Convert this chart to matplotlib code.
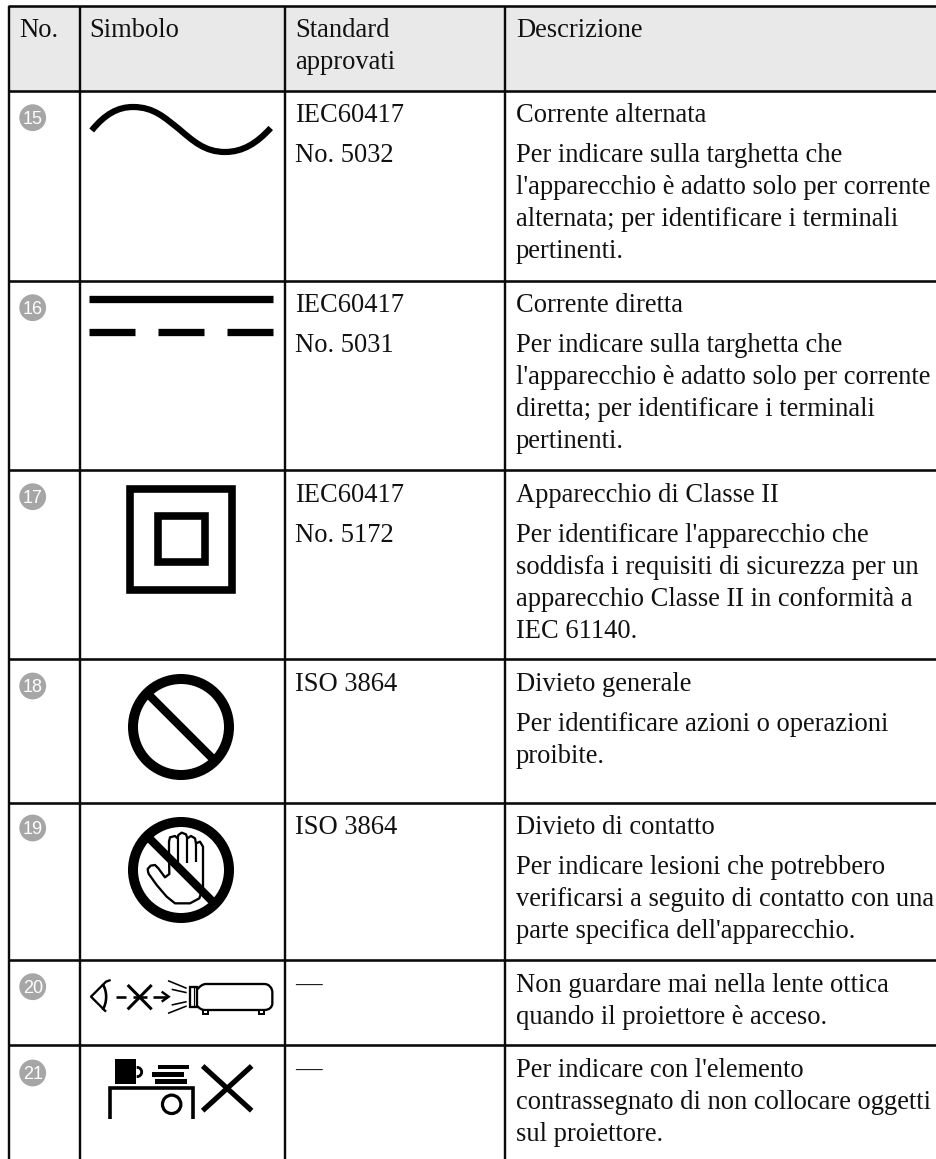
import matplotlib
matplotlib.use("Agg")
import matplotlib.pyplot as plt
from matplotlib.patches import Rectangle, Circle, PathPatch
from matplotlib.path import Path

W, H = 937, 1159
plt.rcParams['font.family'] = ['Liberation Serif', 'DejaVu Serif']

headers = ["No.", "Simbolo", "Standard\napprovati", "Descrizione"]
numbers = ["15", "16", "17", "18", "19", "20", "21"]
standards = [["IEC60417", "No. 5032"], ["IEC60417", "No. 5031"], ["IEC60417", "No. 5172"],
             ["ISO 3864"], ["ISO 3864"], ["—"], ["—"]]
titles = ["Corrente alternata", "Corrente diretta", "Apparecchio di Classe II",
          "Divieto generale", "Divieto di contatto", None, None]
bodies = [
    ["Per indicare sulla targhetta che", "l'apparecchio è adatto solo per corrente",
     "alternata; per identificare i terminali", "pertinenti."],
    ["Per indicare sulla targhetta che", "l'apparecchio è adatto solo per corrente",
     "diretta; per identificare i terminali", "pertinenti."],
    ["Per identificare l'apparecchio che", "soddisfa i requisiti di sicurezza per un",
     "apparecchio Classe II in conformità a", "IEC 61140."],
    ["Per identificare azioni o operazioni", "proibite."],
    ["Per indicare lesioni che potrebbero", "verificarsi a seguito di contatto con una",
     "parte specifica dell'apparecchio."],
    ["Non guardare mai nella lente ottica", "quando il proiettore è acceso."],
    ["Per indicare con l'elemento", "contrassegnato di non collocare oggetti", "sul proiettore."],
]
col_x = [9.5, 80, 285, 505]
row_y = [6, 90.5, 280.5, 470, 659, 802.5, 960, 1045]
badge_y = [117.7, 307.7, 496.7, 686, 828, 986.7, 1073]
text_x = [19, 89, 295, 516]

FS = 19.1
INK = "#111111"
fig = plt.figure(figsize=(W / 100, H / 100), dpi=100, facecolor="white")
ax = fig.add_axes([0, 0, 1, 1])
ax.set_xlim(0, W); ax.set_ylim(H, 0); ax.axis("off")

def px(v):
    return v * 0.72

def line(pts, w, color="black", cap="butt", join="miter", z=3):
    xs, ys = zip(*pts)
    ax.plot(xs, ys, color=color, lw=px(w), solid_capstyle=cap, solid_joinstyle=join, zorder=z)

def bez(verts, w, z=3):
    codes = [Path.MOVETO] + [Path.CURVE4] * (len(verts) - 1)
    ax.add_patch(PathPatch(Path(verts, codes), fc="none", ec="black", lw=px(w), capstyle="butt", zorder=z))

def zoom_map(ox, oy, pts):
    return [(ox + a / 3, oy + b / 3) for a, b in pts]

# table frame
ax.add_patch(Rectangle((col_x[0], row_y[0]), W - col_x[0], row_y[1] - row_y[0], fc="#e9e9e9", ec="none", zorder=0))
for y in row_y:
    ax.plot([col_x[0] - 1, W], [y, y], color="#0a0a0a", lw=px(2.6), solid_capstyle="butt", zorder=1)
for x in col_x:
    ax.plot([x, x], [row_y[0], H], color="#0a0a0a", lw=px(2.4), solid_capstyle="butt", zorder=1)

# header
for x, h in zip(text_x, headers):
    for i, part in enumerate(h.split("\n")):
        ax.text(x, 37 + i * 32, part, fontsize=FS, color=INK, ha="left", va="baseline")

# rows
for i, n in enumerate(numbers):
    top = row_y[i + 1]
    ax.add_patch(Circle((32.7, badge_y[i]), 13.4, fc="#a6a6a6", ec="none", zorder=2))
    ax.text(32.7, badge_y[i] + 6.2, n, fontsize=13, color="white", ha="center", va="baseline",
            family="Liberation Sans", zorder=3)
    b = top + 32
    for j, s in enumerate(standards[i]):
        ax.text(text_x[2], b + j * 40, s, fontsize=FS, color=INK, ha="left", va="baseline")
    y = b
    if titles[i]:
        ax.text(text_x[3], y, titles[i], fontsize=FS, color=INK, ha="left", va="baseline")
        y += 40
    for k, ln in enumerate(bodies[i]):
        ax.text(text_x[3], y + k * 32, ln, fontsize=FS, color=INK, ha="left", va="baseline")

# 15: alternating current
bez([(91.7, 130.5), (105, 114), (118, 107), (133, 107), (154, 107), (165, 118), (179, 129),
     (193, 141), (205, 152), (225, 152), (243, 152), (257, 143), (270.7, 128)], 6.2)

# 16: direct current
line([(89.3, 298.7), (273, 298.7)], 7.3)
for a, c in [(89.3, 135), (158.5, 204), (227.5, 273)]:
    line([(a, 331.7), (c, 331.7)], 7.3)

# 17: class II
for (x0, y0, x1, y1) in [(126.7, 484.7, 235.7, 593.3), (154, 512, 208.3, 566)]:
    t = 7.6
    ax.add_patch(Rectangle((x0 + t / 2, y0 + t / 2), x1 - x0 - t, y1 - y0 - t, fc="none", ec="black",
                           lw=px(t), joinstyle="miter", zorder=3))

# 18 / 19: prohibition
for cy in (727, 870):
    ax.add_patch(Circle((181, cy), 48, fc="none", ec="black", lw=px(10), zorder=4))
    line([(181 - 36, cy - 36), (181 + 36, cy + 36)], 8.3, z=4)

# 19: hand outline
hand = [(115, 220), (113, 207), (122, 197), (135, 195), (145, 205), (165, 232),
        (178, 222), (177, 170), (177, 125), (180, 112), (195, 108), (203, 115),
        (205, 105), (215, 98), (228, 103), (232, 115), (243, 108), (255, 115), (258, 130),
        (270, 125), (279, 140), (279, 200), (279, 262), (268, 295), (240, 310),
        (195, 310), (170, 290), (140, 255), (115, 220)]
hand_pts = zoom_map(110, 800, hand)
ax.add_patch(PathPatch(Path(hand_pts), fc="white", ec="black", lw=px(2.3), joinstyle="round", zorder=3))
for fx, y0, y1 in [(203, 115, 185), (230, 115, 190), (257, 130, 185)]:
    line(zoom_map(110, 800, [(fx, y0), (fx, y1)]), 2.2, z=3)

# 20: eye, crossed arrow, projector
O20 = (80, 960)
line(zoom_map(*O20, [(92, 60), (78, 65), (33, 110), (78, 155)]), 2.3, join="round")
bez(zoom_map(*O20, [(68, 72), (82, 95), (82, 125), (68, 150)]), 2.6)
for a, c in [(108, 138), (160, 200), (220, 262)]:
    line(zoom_map(*O20, [(a, 110), (c, 110)]), 2.6)
line(zoom_map(*O20, [(245, 95), (266, 110), (245, 125)]), 2.4)
line(zoom_map(*O20, [(143, 75), (215, 148)]), 3)
line(zoom_map(*O20, [(215, 75), (143, 148)]), 3)
for seg in [[(264, 62), (320, 85)], [(275, 88), (320, 98)], [(275, 135), (320, 125)], [(264, 160), (320, 138)]]:
    line(zoom_map(*O20, seg), 1.6)
ax.add_patch(Rectangle(zoom_map(*O20, [(330, 81)])[0], 22 / 3, 59 / 3, fc="white", ec="black", lw=px(2.3), zorder=3))
line(zoom_map(*O20, [(341, 81), (341, 140)]), 1.2)
body = [(352, 88), (358, 80), (368, 72), (378, 72), (430, 72), (500, 72), (553, 72),
        (568, 72), (577, 85), (577, 97), (577, 110), (577, 120), (577, 130),
        (577, 142), (567, 150), (553, 150), (500, 150), (430, 150), (375, 150),
        (365, 150), (358, 145), (352, 138)]
bez(zoom_map(*O20, body), 2.3)
for a in (370, 538):
    ax.add_patch(Rectangle(zoom_map(*O20, [(a, 150)])[0], 15 / 3, 12 / 3, fc="white", ec="black", lw=px(2), zorder=3))

# 21: no objects on top
O21 = (0, 960)
ax.add_patch(Rectangle(zoom_map(*O21, [(345, 297)])[0], 63 / 3, 75 / 3, fc="black", ec="none", zorder=3))
bez(zoom_map(*O21, [(410, 322), (430, 322), (430, 350), (410, 350)]), 2.8)
for (a, b, c, d) in [(473, 315, 568, 328), (457, 336, 552, 350), (465, 357, 560, 371)]:
    ax.add_patch(Rectangle(zoom_map(*O21, [(a, b)])[0], (c - a) / 3, (d - b) / 3, fc="black", ec="none", zorder=3))
line(zoom_map(*O21, [(330, 476), (330, 383), (580, 383), (580, 476)]), 3.6)
ax.add_patch(Circle(zoom_map(*O21, [(515, 433)])[0], 9.2, fc="none", ec="black", lw=px(3.2), zorder=3))
line(zoom_map(*O21, [(608, 318), (755, 452)]), 5.2)
line(zoom_map(*O21, [(755, 318), (608, 452)]), 5.2)

fig.savefig("out.png", dpi=100, facecolor="white")
